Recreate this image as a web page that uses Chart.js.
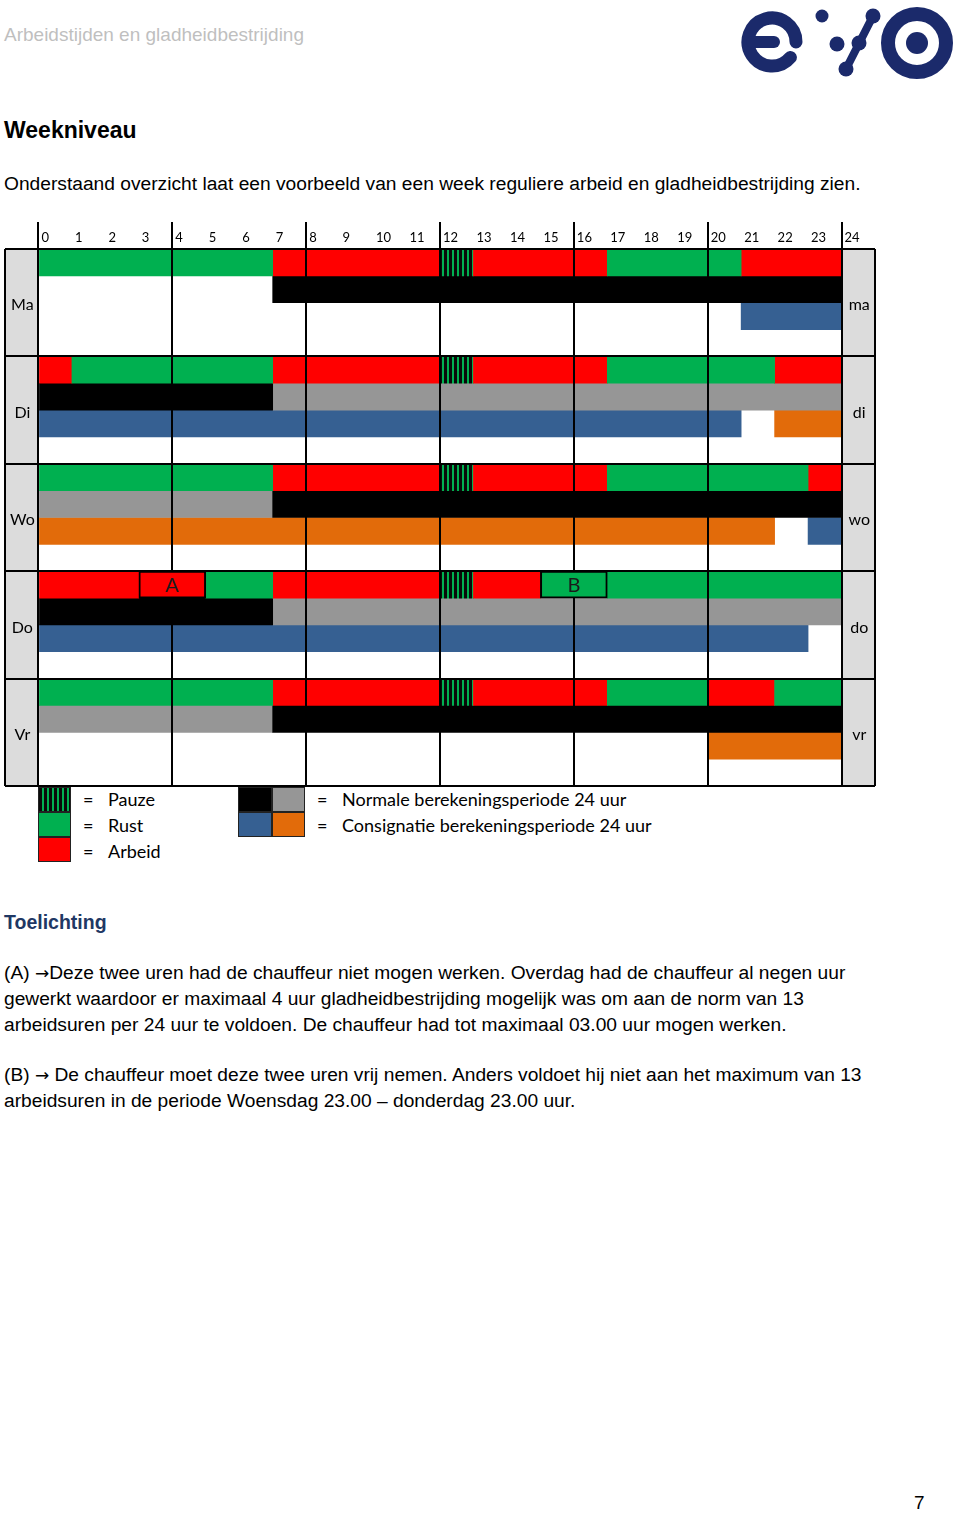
<!DOCTYPE html>
<html lang="nl">
<head>
<meta charset="utf-8">
<title>Weekniveau</title>
<script src="https://cdn.jsdelivr.net/npm/chart.js@4.4.1/dist/chart.umd.min.js"></script>
<style>
  html, body { margin: 0; padding: 0; background: #fff; }
  body { width: 960px; height: 1513px; position: relative; overflow: hidden;
         font-family: "Liberation Sans", Arial, sans-serif; color: #000; }
  .t { position: absolute; left: 4px; white-space: nowrap; }
  .kop { top: 24px; font-size: 19px; line-height: 22px; color: #bfbfbf; }
  .h1 { top: 117px; font-size: 23px; line-height: 26px; font-weight: bold; }
  .intro { top: 173px; font-size: 19.2px; line-height: 22px; }
  .h2 { top: 910px; font-size: 19.5px; line-height: 24px; font-weight: bold; color: #1f3864; }
  .par { font-size: 19.2px; line-height: 26px; }
  .pij { font-family: "DejaVu Sans", sans-serif; font-size: 17px; }
  .pag { left: 914px; top: 1492px; font-size: 19px; line-height: 22px; }
  #wrap { position: absolute; left: 4px; top: 222px; width: 872px; height: 565px; }
  .sw { position: absolute; width: 33px; height: 25px; box-sizing: border-box; border: 1px solid #222; }
  .lg { position: absolute; font-family: Lato, "Open Sans", sans-serif; font-size: 18px; line-height: 22px; white-space: nowrap; }
</style>
</head>
<body>

<div class="t kop">Arbeidstijden en gladheidbestrijding</div>

<svg style="position:absolute;left:0;top:0" width="960" height="90" viewBox="0 0 960 90">
  <g fill="none" stroke="#1b2a6b" stroke-linecap="round">
    <path d="M 796 42 A 24 24 0 1 0 790.4 57.4" stroke-width="13"/>
    <path d="M 752 42 L 774 42" stroke-width="12"/>
    <path d="M 873 16 L 846 69" stroke-width="8"/>
    <circle cx="917" cy="43" r="29" stroke-width="14"/>
  </g>
  <g fill="#1b2a6b">
    <circle cx="822" cy="16" r="6.5"/>
    <circle cx="837" cy="44" r="7.5"/>
    <circle cx="873" cy="16" r="7.5"/>
    <circle cx="859" cy="43" r="7.5"/>
    <circle cx="846" cy="69" r="7.5"/>
    <circle cx="917" cy="43" r="11"/>
  </g>
</svg>

<div class="t h1">Weekniveau</div>
<div class="t intro">Onderstaand overzicht laat een voorbeeld van een week reguliere arbeid en gladheidbestrijding zien.</div>

<div id="wrap"><canvas id="rooster"></canvas></div>

<!-- legenda -->
<div class="sw" style="left:38px;top:787px;background:repeating-linear-gradient(90deg,#0a0a0a 0 3px,#00b050 3px 5px)"></div>
<div class="sw" style="left:38px;top:812px;background:#00b050"></div>
<div class="sw" style="left:38px;top:837px;background:#ff0000"></div>
<div class="lg" style="left:83px;top:788px">=</div>
<div class="lg" style="left:108px;top:788px">Pauze</div>
<div class="lg" style="left:83px;top:814px">=</div>
<div class="lg" style="left:108px;top:814px">Rust</div>
<div class="lg" style="left:83px;top:840px">=</div>
<div class="lg" style="left:108px;top:840px">Arbeid</div>

<div class="sw" style="left:238px;top:787px;width:34px;background:#000"></div>
<div class="sw" style="left:272px;top:787px;background:#969696"></div>
<div class="sw" style="left:238px;top:812px;width:34px;background:#366092"></div>
<div class="sw" style="left:272px;top:812px;background:#e26b0a"></div>
<div class="lg" style="left:317px;top:788px">=</div>
<div class="lg" style="left:342px;top:788px">Normale berekeningsperiode 24 uur</div>
<div class="lg" style="left:317px;top:814px">=</div>
<div class="lg" style="left:342px;top:814px">Consignatie berekeningsperiode 24 uur</div>

<div class="t h2">Toelichting</div>
<div class="t par" style="top:960px">(A) <span class="pij">&#8594;</span>Deze twee uren had de chauffeur niet mogen werken. Overdag had de chauffeur al negen uur<br>gewerkt waardoor er maximaal 4 uur gladheidbestrijding mogelijk was om aan de norm van 13<br>arbeidsuren per 24 uur te voldoen. De chauffeur had tot maximaal 03.00 uur mogen werken.</div>
<div class="t par" style="top:1062px">(B) <span class="pij">&#8594;</span> De chauffeur moet deze twee uren vrij nemen. Anders voldoet hij niet aan het maximum van 13<br>arbeidsuren in de periode Woensdag 23.00 &#8211; donderdag 23.00 uur.</div>

<div class="t pag">7</div>

<script>
/* ===== DATA ===== */
const dagen = ['Ma', 'Di', 'Wo', 'Do', 'Vr'];
const dagenRechts = ['ma', 'di', 'wo', 'do', 'vr'];
const uurLabels = ['0','1','2','3','4','5','6','7','8','9','10','11','12','13','14','15','16','17','18','19','20','21','22','23','24'];
const rijen = ['act', 'norm', 'cons', 'leeg'];

// per dag (Ma..Vr): lijst van [van, tot] in uren
const rust = [[[0,7],[17,21]], [[1,7],[17,22]], [[0,7],[17,23]], [[5,7],[17,24]], [[0,7],[17,20],[22,24]]];
const arbeid = [[[7,12],[13,17],[21,24]], [[0,1],[7,12],[13,17],[22,24]], [[7,12],[13,17],[23,24]], [[0,3],[7,12],[13,15]], [[7,12],[13,17],[20,22]]];
const pauze = [[[12,13]], [[12,13]], [[12,13]], [[12,13]], [[12,13]]];
const normaalZwart = [[[7,24]], [[0,7]], [[7,24]], [[0,7]], [[7,24]]];
const normaalGrijs = [[], [[7,24]], [[0,7]], [[7,24]], [[0,7]]];
const consBlauw = [[[21,24]], [[0,21]], [[23,24]], [[0,23]], []];
const consOranje = [[], [[22,24]], [[0,22]], [], [[20,24]]];
const markeringen = [
    { dag: 'Do', van: 3, tot: 5, tekst: 'A', soort: 'arbeid' },
    { dag: 'Do', van: 15, tot: 17, tekst: 'B', soort: 'rust' }
];

/* ===== STYLE ===== */
const kleur = { rust: '#00b050', arbeid: '#ff0000', zwart: '#000000', grijs: '#969696', blauw: '#366092', oranje: '#e26b0a', cel: '#dcdcdc' };

const rijIds = dagen.flatMap(d => rijen.map(r => d + '-' + r));
const balken = (segs, rij) => segs.flatMap((s, i) => s.map(([a, b]) => ({ y: dagen[i] + '-' + rij, x: [a, b] })));

const pauzePatroon = (() => {
    const c = document.createElement('canvas');
    c.width = 5; c.height = 4;
    const g = c.getContext('2d');
    g.fillStyle = kleur.rust; g.fillRect(0, 0, 5, 4);
    g.fillStyle = '#0a0a0a'; g.fillRect(0, 0, 3, 4);
    return g.createPattern(c, 'repeat');
})();

const basis = { grouped: false, barPercentage: 1, categoryPercentage: 1, borderWidth: 0, yAxisID: 'rijen' };

const datasets = [
    { ...basis, label: 'dagcel', yAxisID: 'dagen', backgroundColor: kleur.cel,
      data: dagen.flatMap(d => [{ y: d, x: [-1, 0] }, { y: d, x: [24, 25] }]) },
    { ...basis, label: 'Rust', backgroundColor: kleur.rust, data: balken(rust, 'act') },
    { ...basis, label: 'Arbeid', backgroundColor: kleur.arbeid, data: balken(arbeid, 'act') },
    { ...basis, label: 'Pauze', backgroundColor: pauzePatroon, data: balken(pauze, 'act') },
    { ...basis, label: 'Normaal (zwart)', backgroundColor: kleur.zwart, data: balken(normaalZwart, 'norm') },
    { ...basis, label: 'Normaal (grijs)', backgroundColor: kleur.grijs, data: balken(normaalGrijs, 'norm') },
    { ...basis, label: 'Consignatie (blauw)', backgroundColor: kleur.blauw, data: balken(consBlauw, 'cons') },
    { ...basis, label: 'Consignatie (oranje)', backgroundColor: kleur.oranje, data: balken(consOranje, 'cons') },
    { ...basis, label: 'markering', borderWidth: 2, borderColor: '#000', borderSkipped: false,
      backgroundColor: markeringen.map(m => kleur[m.soort]),
      data: markeringen.map(m => ({ y: m.dag + '-act', x: [m.van, m.tot] })) }
];

// markeringen (A/B) boven de rasterlijnen, met letter
const markeringPlugin = {
    id: 'markering',
    afterDraw(chart) {
        const idx = chart.data.datasets.findIndex(d => d.label === 'markering');
        const meta = chart.getDatasetMeta(idx);
        const ctx = chart.ctx;
        ctx.save();
        meta.data.forEach((el, i) => {
            el.draw(ctx);
            ctx.fillStyle = '#1a1a1a';
            ctx.font = "20px Lato, 'Open Sans', sans-serif";
            ctx.textAlign = 'center'; ctx.textBaseline = 'middle';
            ctx.fillText(markeringen[i].tekst, (el.x + el.base) / 2, el.y + 1);
        });
        ctx.restore();
    }
};

Chart.defaults.font.family = "Lato, 'Open Sans', sans-serif";
Chart.defaults.color = '#000';

const isVierUur = v => v >= 0 && v <= 24 && v % 4 === 0;
const zonderRuimte = s => { s.width = 0; s.paddingTop = 0; s.paddingBottom = 0; };
// daglabel op de tweede rij van elke dag, half rij omlaag geschoven
const dagLabel = namen => (v, i) => i % 4 === 1 ? namen[Math.floor(i / 4)] : '';

new Chart(document.getElementById('rooster'), {
    type: 'bar',
    data: { datasets },
    options: {
        indexAxis: 'y',
        responsive: true, maintainAspectRatio: false, animation: false,
        layout: { padding: { left: 1, right: 1, top: 0, bottom: 1 } },
        plugins: { legend: { display: false }, tooltip: { enabled: false } },
        scales: {
            x: {
                type: 'linear', position: 'top', min: -1, max: 25,
                afterFit: s => { s.height = 27; },
                border: { display: false },
                grid: {
                    z: 1, lineWidth: 2, tickWidth: 2, tickLength: 27,
                    color: c => (isVierUur(c.tick.value) || c.tick.value === -1 || c.tick.value === 25) ? '#000' : 'rgba(0,0,0,0)',
                    tickColor: c => isVierUur(c.tick.value) ? '#000' : 'rgba(0,0,0,0)'
                },
                ticks: {
                    stepSize: 1, autoSkip: false, align: 'start', labelOffset: 3, padding: -24,
                    font: { size: 13 },
                    callback: v => (v >= 0 && v <= 24) ? uurLabels[v] : ''
                }
            },
            dagen: { type: 'category', axis: 'y', labels: dagen, offset: true, display: false },
            rijen: {
                type: 'category', axis: 'y', position: 'left', labels: rijIds, offset: true,
                afterFit: zonderRuimte,
                border: { display: false },
                grid: {
                    z: 1, offset: true, lineWidth: 2, drawTicks: false,
                    // de laatste (onderste) lijn heeft geen tick-index
                    color: c => (c.index === undefined || c.index % 4 === 0) ? '#000' : 'rgba(0,0,0,0)'
                },
                ticks: { z: 2, autoSkip: false, mirror: true, crossAlign: 'center', padding: 5, labelOffset: 16,
                         font: { size: 16 }, callback: dagLabel(dagen) }
            },
            rijenR: {
                type: 'category', axis: 'y', position: 'right', labels: rijIds, offset: true,
                afterFit: zonderRuimte,
                border: { display: false },
                grid: { display: false, drawTicks: false },
                ticks: { z: 2, autoSkip: false, mirror: true, crossAlign: 'center', padding: -5, labelOffset: 16,
                         font: { size: 16 }, callback: dagLabel(dagenRechts) }
            }
        }
    },
    plugins: [markeringPlugin]
});
</script>
</body>
</html>
